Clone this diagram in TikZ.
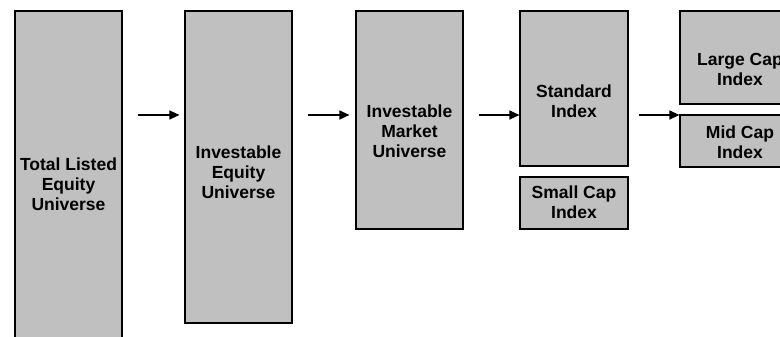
\documentclass[tikz,border=0pt]{standalone}
\usepackage{fontspec}
\setmainfont{Liberation Sans}
\usetikzlibrary{arrows.meta}
\definecolor{boxgray}{HTML}{C0C0C0}

\begin{document}
\begin{tikzpicture}[x=1pt,y=-1pt,
        stage/.style={draw,fill=boxgray,line width=1.2pt,inner sep=0pt},
        caption/.style={align=center,inner sep=0pt,font=\bfseries\fontsize{17.5}{20}\selectfont},
        flow/.style={-{Triangle[length=10pt,width=9pt]},line width=1.2pt}]
        \clip (0,0) rectangle (780,337);
        \coordinate (lvl) at (0,115);

        \node[stage,minimum width=107pt,minimum height=349pt](total) at (68.5,185.5){};
        \node[stage,minimum width=107pt,minimum height=312pt](equity) at (238.5,167){};
        \node[stage,minimum width=107pt,minimum height=218pt](market) at (409.5,120){};
        \node[stage,minimum width=108pt,minimum height=155pt](standard) at (574,88.5){};
        \node[stage,minimum width=108pt,minimum height=52pt](smallcap) at (574,203){};
        \node[stage,minimum width=120pt,minimum height=93pt](largecap) at (740,57.5){};
        \node[stage,minimum width=120pt,minimum height=52pt](midcap) at (740,141){};

        \node[caption](totaltxt) at (68.5,184){Total Listed\\Equity\\Universe};
        \node[caption](equitytxt) at (238.5,172){Investable\\Equity\\Universe};
        \node[caption](markettxt) at (409.5,131.5){Investable\\Market\\Universe};
        \node[caption](standardtxt) at (574,101){Standard\\Index};
        \node[caption](smallcaptxt) at (574,202){Small Cap\\Index};
        \node[caption](largecaptxt) at (740,69){Large Cap\\Index};
        \node[caption](midcaptxt) at (740,142){Mid Cap\\Index};

        \draw[flow,shorten <=15pt,shorten >=5pt](total.east|-lvl)--(equity.west|-lvl);
        \draw[flow,shorten <=15pt,shorten >=6pt](equity.east|-lvl)--(market.west|-lvl);
        \draw[flow,shorten <=15pt](market.east|-lvl)--(standard.west|-lvl);
        \draw[flow,shorten <=10pt](standard.east|-lvl)--(largecap.west|-lvl);
    \end{tikzpicture}
\end{document}
